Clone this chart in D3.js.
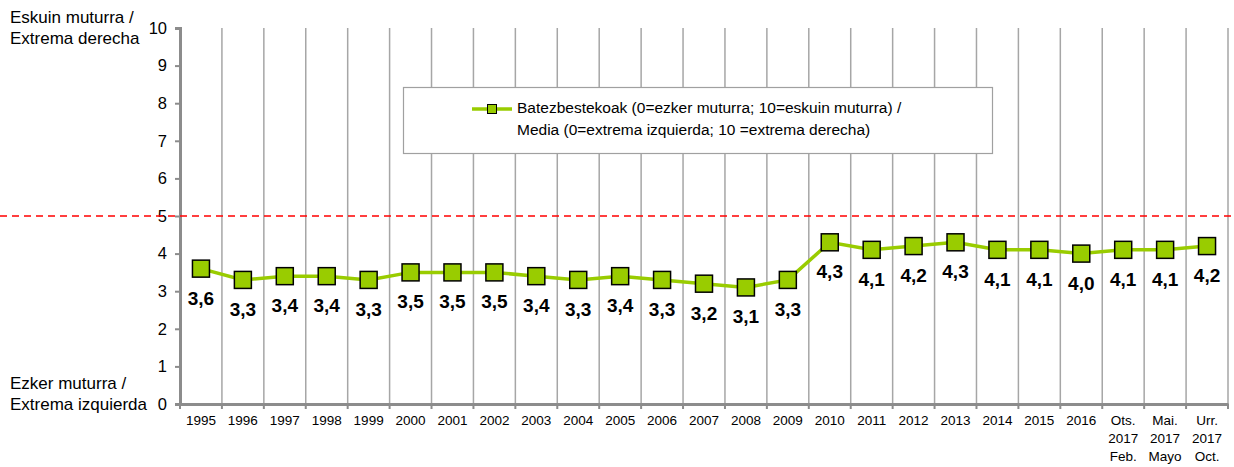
<!DOCTYPE html>
<html>
<head>
<meta charset="utf-8">
<script src="https://cdn.jsdelivr.net/npm/d3@7"></script>
<style>
  html, body { margin: 0; padding: 0; background: #fff; }
  svg { display: block; font-family: "Liberation Sans", Arial, sans-serif; }
</style>
</head>
<body>
<svg id="chart" width="1234" height="467"></svg>
<script>
// Categories (multi-line labels separated by "\n")
const categories = [
  "1995", "1996", "1997", "1998", "1999", "2000", "2001", "2002", "2003",
  "2004", "2005", "2006", "2007", "2008", "2009", "2010", "2011", "2012",
  "2013", "2014", "2015", "2016", "Ots.\n2017\nFeb.", "Mai.\n2017\nMayo", "Urr.\n2017\nOct."
];
// Average left-right self-placement
const meanValues = [
  3.6, 3.3, 3.4, 3.4, 3.3, 3.5, 3.5, 3.5, 3.4, 3.3, 3.4, 3.3, 3.2,
  3.1, 3.3, 4.3, 4.1, 4.2, 4.3, 4.1, 4.1, 4.0, 4.1, 4.1, 4.2
];
const yTicks = [0, 1, 2, 3, 4, 5, 6, 7, 8, 9, 10];
const midpoint = 5;
const legendLines = [
  "Batezbestekoak (0=ezker muturra; 10=eskuin muturra) /",
  "Media (0=extrema izquierda; 10 =extrema derecha)"
];
const topLabel = ["Eskuin muturra /", "Extrema derecha"];
const bottomLabel = ["Ezker muturra /", "Extrema izquierda"];

const svg = d3.select("#chart");
const W = 1234, H = 467;
const margin = { left: 180, right: 6, top: 28, bottom: 63 };

const x = d3.scaleBand()
  .domain(categories)
  .range([margin.left, W - margin.right])
  .paddingInner(0).paddingOuter(0);
const y = d3.scaleLinear().domain([0, 10]).range([H - margin.bottom, margin.top]);

const green = "#99cc00";
const gridCol = "#a6a6a6";
const axisCol = "#8c8c8c";

// Vertical gridlines at category boundaries
const bounds = categories.map(c => x(c) + x.bandwidth());
svg.append("g").selectAll("line").data(bounds).join("line")
  .attr("x1", d => d).attr("x2", d => d)
  .attr("y1", y(10)).attr("y2", y(0))
  .attr("stroke", gridCol).attr("stroke-width", 1.5);

// Y axis
const yAxis = d3.axisLeft(y).tickValues(yTicks).tickSize(5).tickPadding(8).tickFormat(d3.format("d"));
const gy = svg.append("g").attr("transform", `translate(${margin.left},0)`).call(yAxis);
gy.select(".domain").attr("stroke", axisCol).attr("stroke-width", 3);
gy.selectAll(".tick line").attr("stroke", axisCol).attr("stroke-width", 2);
gy.selectAll(".tick text").attr("font-size", 16.5).attr("fill", "#000")
  .attr("font-family", "Liberation Sans, Arial, sans-serif");

// X axis
const xAxis = d3.axisBottom(x).tickSize(0).tickFormat(() => "");
const gx = svg.append("g").attr("transform", `translate(0,${y(0)})`).call(xAxis);
gx.select(".domain").attr("stroke", axisCol).attr("stroke-width", 3);
// boundary ticks below axis
svg.append("g").selectAll("line").data([margin.left].concat(bounds)).join("line")
  .attr("x1", d => d).attr("x2", d => d)
  .attr("y1", y(0)).attr("y2", y(0) + 5)
  .attr("stroke", axisCol).attr("stroke-width", 2);
// category labels
const xl = svg.append("g").selectAll("text").data(categories).join("text")
  .attr("x", d => x(d) + x.bandwidth() / 2)
  .attr("y", y(0) + 21)
  .attr("text-anchor", "middle")
  .attr("font-size", 13.5)
  .attr("fill", "#000");
xl.each(function (d) {
  const t = d3.select(this);
  d.split("\n").forEach((s, i) => {
    t.append("tspan").attr("x", x(d) + x.bandwidth() / 2).attr("dy", i === 0 ? 0 : 18).text(s);
  });
});

// Dashed midpoint line
svg.append("line")
  .attr("x1", 0).attr("x2", W)
  .attr("y1", y(midpoint)).attr("y2", y(midpoint))
  .attr("stroke", "#ff0000").attr("stroke-width", 1.5)
  .attr("stroke-dasharray", "7,5");

// Axis end captions
function caption(lines, y0) {
  const t = svg.append("text").attr("x", 10).attr("y", y0).attr("font-size", 17).attr("fill", "#000");
  lines.forEach((s, i) => t.append("tspan").attr("x", 10).attr("dy", i === 0 ? 0 : 21).text(s));
}
caption(topLabel, 23);
caption(bottomLabel, 389);

// Series line
const cx = (d, i) => x(categories[i]) + x.bandwidth() / 2;
const line = d3.line().x(cx).y(d => y(d));
svg.append("path").datum(meanValues)
  .attr("d", line)
  .attr("fill", "none").attr("stroke", green).attr("stroke-width", 3.5);

// Markers
const ms = 17;
svg.append("g").selectAll("rect").data(meanValues).join("rect")
  .attr("x", (d, i) => cx(d, i) - ms / 2)
  .attr("y", d => y(d) - ms / 2)
  .attr("width", ms).attr("height", ms)
  .attr("fill", green).attr("stroke", "#000").attr("stroke-width", 1.5);

// Value labels
const fmt = d => d3.format(".1f")(d).replace(".", ",");
svg.append("g").selectAll("text").data(meanValues).join("text")
  .attr("x", (d, i) => cx(d, i))
  .attr("y", d => y(d) + 36)
  .attr("text-anchor", "middle")
  .attr("font-size", 19).attr("font-weight", "bold").attr("fill", "#000")
  .text(fmt);

// Legend
const lg = svg.append("g");
lg.append("rect").attr("x", 403.5).attr("y", 87.5).attr("width", 589).attr("height", 66)
  .attr("fill", "#fff").attr("stroke", "#a0a0a0").attr("stroke-width", 1.2);
lg.append("line").attr("x1", 472).attr("x2", 512).attr("y1", 109).attr("y2", 109)
  .attr("stroke", green).attr("stroke-width", 3.5);
lg.append("rect").attr("x", 487.5).attr("y", 104.5).attr("width", 9).attr("height", 9)
  .attr("fill", green).attr("stroke", "#000").attr("stroke-width", 1);
const lt = lg.append("text").attr("x", 517).attr("y", 113).attr("font-size", 15.5).attr("fill", "#000");
legendLines.forEach((s, i) => lt.append("tspan").attr("x", 517).attr("dy", i === 0 ? 0 : 22).text(s));
</script>
</body>
</html>
